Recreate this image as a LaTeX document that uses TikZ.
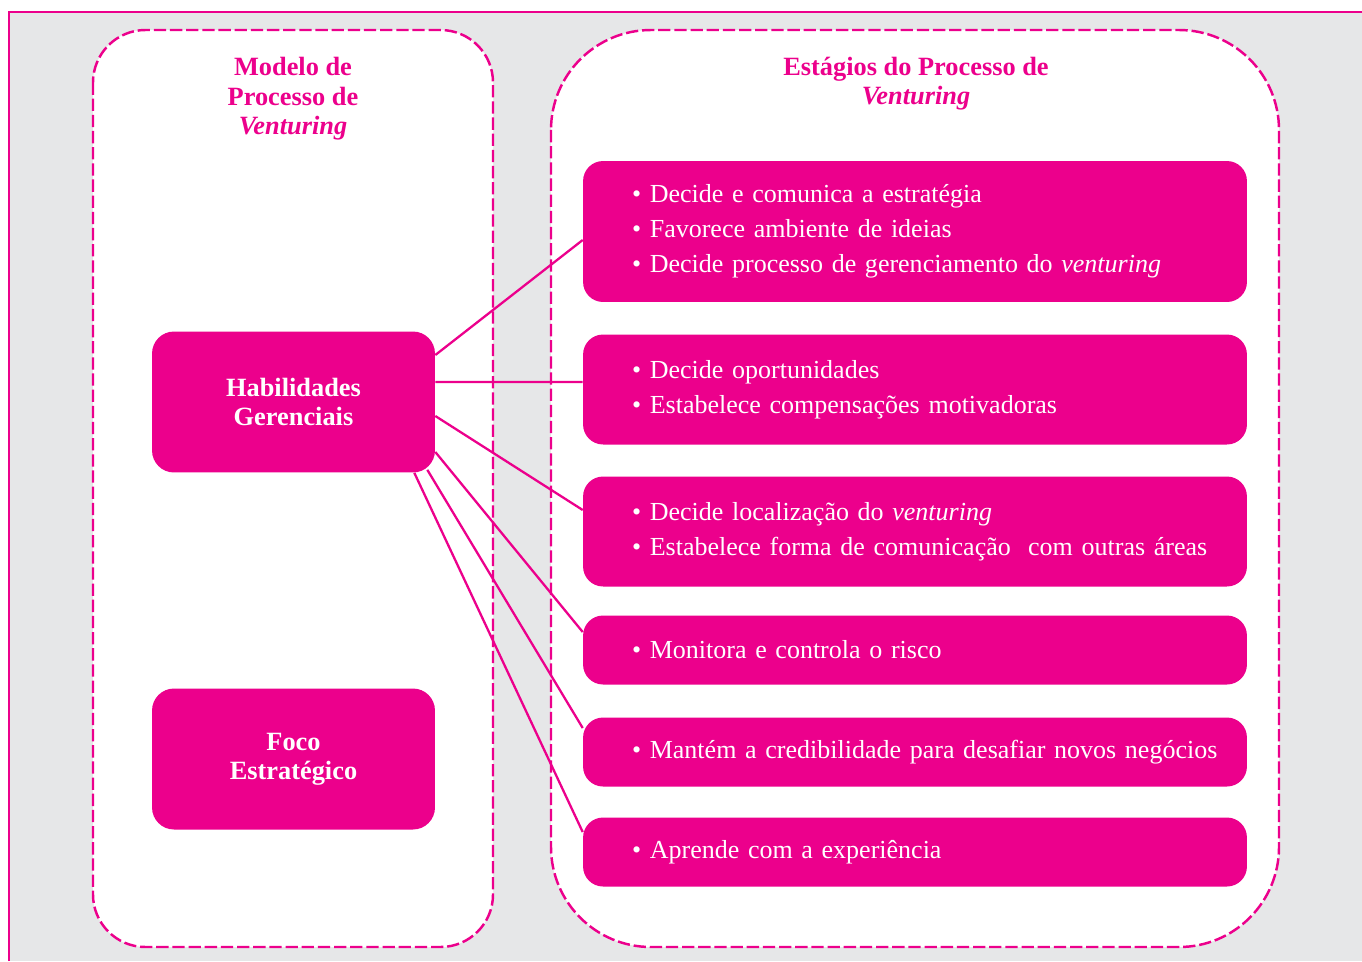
\documentclass[tikz,border=0pt]{standalone}
\usepackage{fontspec}
\setmainfont{Liberation Serif}
\definecolor{vmag}{HTML}{EC008C}
\definecolor{panel}{HTML}{E6E7E8}

\begin{document}
\begin{tikzpicture}[x=0.02cm, y=-0.02cm,
    column/.style={draw=vmag, fill=white, line width=1.4pt, dash pattern=on 7pt off 2.2pt},
    heading/.style={text=vmag, align=center, font=\fontsize{15}{16.8}\selectfont\bfseries},
    skill/.style={fill=vmag, text=white, rounded corners=0.44cm, minimum width=5.66cm,
          minimum height=2.82cm, align=center, font=\fontsize{15}{16.5}\selectfont\bfseries},
    stage/.style={fill=vmag, text=white, rounded corners=0.4cm, minimum width=13.28cm,
          text width=12.8cm, inner xsep=0.24cm, align=left,
          execute at begin node={\leftskip=0.74cm\relax},
          font=\fontsize{14.8}{19.9}\selectfont},
    link/.style={draw=vmag, line width=1.3pt}]
  \useasboundingbox (0,0) rectangle (1362,961);
  \fill[white] (0,0) rectangle (1362,961);
  \fill[panel] (9,12) rectangle (1362,961);
  \draw[vmag, line width=1.7pt] (9,961) -- (9,12) -- (1362,12);

  % dashed columns
  \path[column, rounded corners=1.05cm] (93,30) rectangle (493,947);
  \path[column, rounded corners=2cm] (551,30) rectangle (1279,947);

  \node[heading] (model) at (293,99) {Modelo de\\Processo de\\\textit{Venturing}};
  \node[heading] (stages) at (916,83.5) {Estágios do Processo de\\\textit{Venturing}};

  \node[skill] (hab) at (293.5,402) {Habilidades\\Gerenciais};
  \node[skill] (foco) at (293.5,759) {Foco\\Estratégico};

  \node[stage, minimum height=2.82cm] (s1) at (915,231.5) {%
    • Decide e comunica a estratégia\\
    • Favorece ambiente de ideias\\
    • Decide processo de gerenciamento do \textit{venturing}};
  \node[stage, minimum height=2.2cm] (s2) at (915,389.5) {%
    • Decide oportunidades\\
    • Estabelece compensações motivadoras};
  \node[stage, minimum height=2.2cm] (s3) at (915,531.5) {%
    • Decide localização do \textit{venturing}\\
    • Estabelece forma de comunicação~ com outras áreas};
  \node[stage, minimum height=1.38cm] (s4) at (915,650) {• Monitora e controla o risco};
  \node[stage, minimum height=1.38cm] (s5) at (915,752) {• Mantém a credibilidade para desafiar novos negócios};
  \node[stage, minimum height=1.38cm] (s6) at (915,852) {• Aprende com a experiência};

  % links from the skill box to each stage
  \draw[link] ([yshift=0.94cm]hab.east) -- ([yshift=-0.17cm]s1.west);
  \draw[link] ([yshift=0.4cm]hab.east) -- ([yshift=0.15cm]s2.west);
  \draw[link] ([yshift=-0.28cm]hab.east) -- ([yshift=0.43cm]s3.west);
  \draw[link] ([yshift=-1cm]hab.east) -- ([yshift=0.36cm]s4.west);
  \draw[link] ([xshift=-0.16cm,yshift=0.06cm]hab.south east) -- ([yshift=0.48cm]s5.west);
  \draw[link] ([xshift=-0.42cm]hab.south east) -- ([yshift=0.4cm]s6.west);
\end{tikzpicture}
\end{document}
